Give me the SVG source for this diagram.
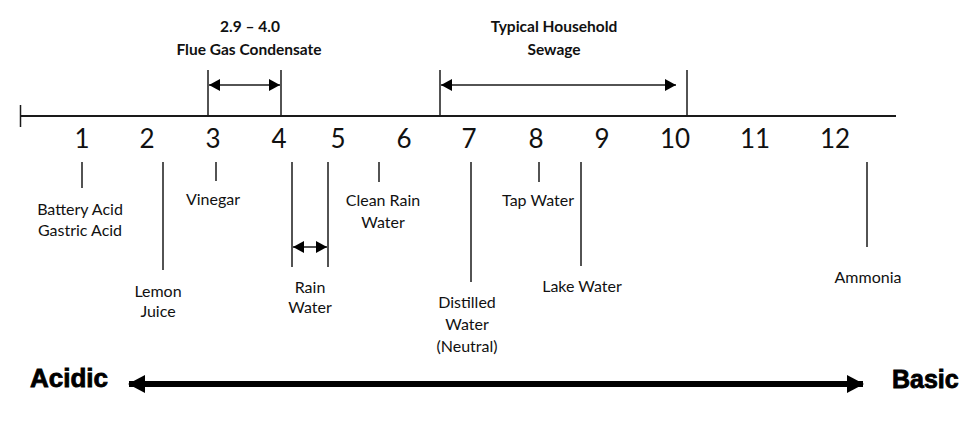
<svg xmlns="http://www.w3.org/2000/svg" width="975" height="436" viewBox="0 0 975 436">
  <style>
    .ax { stroke: #1a1a1a; stroke-width: 2; fill: none; }
    .tk { stroke: #1a1a1a; stroke-width: 1.5; fill: none; }
    .num { font-family: Lato, "Open Sans", sans-serif; font-size: 26px; fill: #111; text-anchor: middle; }
    .lbl { font-family: Lato, "Open Sans", sans-serif; font-size: 16px; fill: #111; text-anchor: middle; }
    .ttl { font-family: Lato, "Open Sans", sans-serif; font-size: 15.5px; font-weight: bold; fill: #111; text-anchor: middle; }
    .big { font-family: "Liberation Sans", Arial, sans-serif; font-weight: bold; fill: #000; stroke: #000; stroke-width: 0.8; }
  </style>
  <defs>
    <marker id="ah" markerUnits="userSpaceOnUse" markerWidth="12" markerHeight="12" viewBox="0 0 11 12" refX="11" refY="6" orient="auto-start-reverse">
      <path d="M0,0 L11,6 L0,12 Z" fill="#000"/>
    </marker>
    <marker id="bh" markerUnits="userSpaceOnUse" markerWidth="18" markerHeight="18" viewBox="0 0 17 18" refX="16" refY="9" orient="auto-start-reverse">
      <path d="M0,0 L17,9 L0,18 Z" fill="#000"/>
    </marker>
  </defs>

  <g id="scale">
    <line class="ax" x1="20" y1="116" x2="896" y2="116"/>
    <line class="tk" x1="20.5" y1="105" x2="20.5" y2="127"/>
    <text class="num" x="82" y="148">1</text>
    <text class="num" x="147" y="148">2</text>
    <text class="num" x="213" y="148">3</text>
    <text class="num" x="279" y="148">4</text>
    <text class="num" x="338" y="148">5</text>
    <text class="num" x="404" y="148">6</text>
    <text class="num" x="469" y="148">7</text>
    <text class="num" x="536" y="148">8</text>
    <text class="num" x="602" y="148">9</text>
    <text class="num" x="675" y="148">10</text>
    <text class="num" x="755" y="148">11</text>
    <text class="num" x="835" y="148">12</text>
  </g>

  <g id="flue-gas">
    <text class="ttl" x="250" y="32">2.9 – 4.0</text>
    <text class="ttl" x="249" y="55">Flue Gas Condensate</text>
  </g>
  <g id="sewage">
    <text class="ttl" x="554" y="32">Typical Household</text>
    <text class="ttl" x="554" y="55">Sewage</text>
  </g>
  <g id="battery-acid">
    <text class="lbl" x="80" y="215">Battery Acid</text>
    <text class="lbl" x="80" y="236">Gastric Acid</text>
  </g>
  <g id="lemon-juice">
    <text class="lbl" x="158" y="297">Lemon</text>
    <text class="lbl" x="158" y="317">Juice</text>
  </g>
  <g id="vinegar">
    <text class="lbl" x="213" y="205">Vinegar</text>
  </g>
  <g id="rain-water">
    <text class="lbl" x="310" y="293">Rain</text>
    <text class="lbl" x="310" y="313">Water</text>
  </g>
  <g id="clean-rain-water">
    <text class="lbl" x="383" y="206">Clean Rain</text>
    <text class="lbl" x="383" y="228">Water</text>
  </g>
  <g id="distilled-water">
    <text class="lbl" x="467" y="308">Distilled</text>
    <text class="lbl" x="467" y="330">Water</text>
    <text class="lbl" x="467" y="352">(Neutral)</text>
  </g>
  <g id="tap-water">
    <text class="lbl" x="538" y="206">Tap Water</text>
  </g>
  <g id="lake-water">
    <text class="lbl" x="582" y="292">Lake Water</text>
  </g>
  <g id="ammonia">
    <text class="lbl" x="868" y="283">Ammonia</text>
  </g>
  <g id="acidic">
    <text class="big" x="30" y="387" font-size="26">Acidic</text>
  </g>
  <g id="basic">
    <text class="big" x="892" y="388" font-size="25">Basic</text>
  </g>

  <g id="connectors">
    <line class="tk" x1="208" y1="70" x2="208" y2="116"/>
    <line class="tk" x1="281" y1="70" x2="281" y2="116"/>
    <line class="tk" x1="209" y1="85" x2="280" y2="85" marker-start="url(#ah)" marker-end="url(#ah)"/>
    <line class="tk" x1="440" y1="70" x2="440" y2="116"/>
    <line class="tk" x1="687" y1="70" x2="687" y2="116"/>
    <line class="tk" x1="441" y1="85" x2="676" y2="85" marker-start="url(#ah)" marker-end="url(#ah)"/>
    <line class="tk" x1="82" y1="162" x2="82" y2="188"/>
    <line class="tk" x1="163" y1="162" x2="163" y2="270"/>
    <line class="tk" x1="216" y1="162" x2="216" y2="181"/>
    <line class="tk" x1="292" y1="162" x2="292" y2="267"/>
    <line class="tk" x1="328" y1="162" x2="328" y2="267"/>
    <line class="tk" x1="293" y1="247" x2="327" y2="247" marker-start="url(#ah)" marker-end="url(#ah)"/>
    <line class="tk" x1="379" y1="162" x2="379" y2="182"/>
    <line class="tk" x1="471" y1="162" x2="471" y2="282"/>
    <line class="tk" x1="539" y1="162" x2="539" y2="182"/>
    <line class="tk" x1="581" y1="162" x2="581" y2="266"/>
    <line class="tk" x1="867" y1="162" x2="867" y2="247"/>
    <line x1="129" y1="384" x2="863" y2="384" stroke="#000" stroke-width="6" marker-start="url(#bh)" marker-end="url(#bh)"/>
  </g>
</svg>
